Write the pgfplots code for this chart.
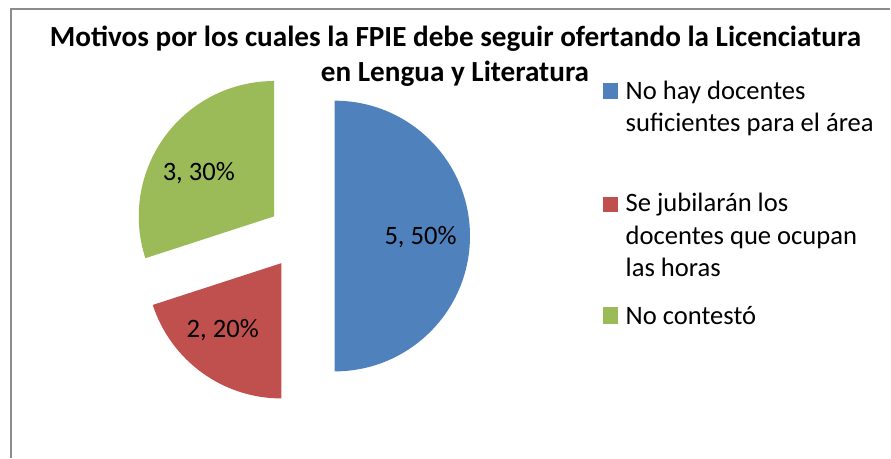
\documentclass[border=0pt]{standalone}
\usepackage{fontspec}
\setmainfont{Carlito}
\usepackage{pgfplots}
\pgfplotsset{compat=1.18}
\usepackage{pgfplotstable}

\definecolor{pieblue}{HTML}{4F81BD}
\definecolor{piered}{HTML}{C0504D}
\definecolor{piegreen}{HTML}{9BBB59}
\definecolor{framegray}{HTML}{8C8C8C}

% values of the three slices, in the order Excel draws them (clockwise from 12 o'clock)
\pgfplotstableread{
name value
docentes 5
jubilaran 2
nocontesto 3
}\piedata

\begin{document}
\begin{tikzpicture}
\pgfplotstablegetelem{0}{value}\of\piedata \let\va\pgfplotsretval
\pgfplotstablegetelem{1}{value}\of\piedata \let\vb\pgfplotsretval
\pgfplotstablegetelem{2}{value}\of\piedata \let\vc\pgfplotsretval
\pgfmathsetmacro\tot{\va+\vb+\vc}
\pgfmathsetmacro\aA{90}
\pgfmathsetmacro\aB{\aA-360*\va/\tot}
\pgfmathsetmacro\aC{\aB-360*\vb/\tot}
\pgfmathsetmacro\aD{\aC-360*\vc/\tot}
\pgfmathsetmacro\mA{(\aA+\aB)/2}
\pgfmathsetmacro\mB{(\aB+\aC)/2}
\pgfmathsetmacro\mC{(\aC+\aD)/2}
\def\rad{67.75pt}
\def\expl{16.75pt}
\begin{axis}[
  width=445.5pt, height=229pt, scale only axis,
  xmin=0, xmax=891, ymin=0, ymax=458,
  hide axis, clip=false,
  font=\fontsize{13.3}{16}\selectfont
]
% keep the whole canvas in the bounding box
\path (axis cs:0,0) rectangle (axis cs:891,458);
% chart frame (only top and left edges are inside the crop)
\draw[framegray, line width=1pt] (axis cs:11,0) -- (axis cs:11,449) -- (axis cs:891,449);

% slices, each pulled out from the centre along its bisector
\fill[pieblue] ([shift={(\mA:\expl)}]axis cs:301.5,221.7) -- ++(\aA:\rad)
  arc[start angle=\aA, end angle=\aB, radius=\rad] -- cycle;
\fill[piered] ([shift={(\mB:\expl)}]axis cs:301.5,221.7) -- ++(\aB:\rad)
  arc[start angle=\aB, end angle=\aC, radius=\rad] -- cycle;
\fill[piegreen] ([shift={(\mC:\expl)}]axis cs:301.5,221.7) -- ++(\aC:\rad)
  arc[start angle=\aC, end angle=\aD, radius=\rad] -- cycle;

% data labels
\node[anchor=base] at (axis cs:421,213) {5, 50\%};
\node[anchor=base] at (axis cs:199,277.3) {3, 30\%};
\node[anchor=base] at (axis cs:223,119.7) {2, 20\%};

% title
\node[anchor=base, font=\bfseries\fontsize{14.6}{16}\selectfont] at (axis cs:456,411)
  {Motivos por los cuales la FPIE debe seguir ofertando la Licenciatura};
\node[anchor=base, font=\bfseries\fontsize{14.6}{16}\selectfont] at (axis cs:455.5,376)
  {en Lengua y Literatura};

% legend
\fill[pieblue] (axis cs:604,359.3) rectangle (axis cs:619,374.7);
\node[anchor=base west, inner sep=0pt] at (axis cs:626,358.7) {No hay docentes};
\node[anchor=base west, inner sep=0pt] at (axis cs:626,326.3) {suficientes para el área};
\fill[piered] (axis cs:604,245.7) rectangle (axis cs:619,260.7);
\node[anchor=base west, inner sep=0pt] at (axis cs:626,246) {Se jubilarán los};
\node[anchor=base west, inner sep=0pt] at (axis cs:626,213.3) {docentes que ocupan};
\node[anchor=base west, inner sep=0pt] at (axis cs:626,181.3) {las horas};
\fill[piegreen] (axis cs:604,133.7) rectangle (axis cs:619,150.3);
\node[anchor=base west, inner sep=0pt] at (axis cs:626,133) {No contestó};
\end{axis}
\end{tikzpicture}
\end{document}
